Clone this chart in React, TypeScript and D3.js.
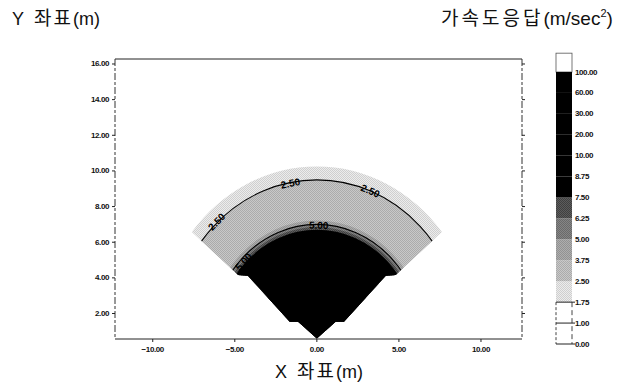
import React from 'react'
import * as d3 from 'd3'

// axis ticks
const xTicks = [-10, -5, 0, 5, 10]
const yTicks = [2, 4, 6, 8, 10, 12, 14, 16]

// colour bar levels (m/sec^2) and the two dither tones of each interval
const levels = [0, 1, 1.75, 2.5, 3.75, 5, 6.25, 7.5, 8.75, 10, 20, 30, 60, 100]
const bandLight = ['#ffffff', '#ffffff', '#ececec', '#c8c8c8', '#adadad', '#858585', '#5c5c5c', '#000', '#000', '#000', '#000', '#000', '#000']
const bandDark = ['#ffffff', '#ffffff', '#cfcfcf', '#ababab', '#929292', '#6a6a6a', '#404040', '#000', '#000', '#000', '#000', '#000', '#000']

// distance from the fan centre where the response falls under each level (1.75 .. 7.5)
const bandIndex = [2, 3, 4, 5, 6, 7]
const bandRadius = [9.73, 8.9, 6.62, 6.4, 6.25, 6.1]

// contour lines and their labels
const contourLevels = ['2.50', '5.00']
const contourRadius = [8.9, 6.4]
const labelText = ['2.50', '2.50', '2.50', '5.00', '5.00']
const labelRadius = [8.95, 8.85, 8.9, 6.35, 6.2]
const labelAngle = [133, 100.5, 68.5, 89, 136]

// fan centre and left half of the mesh outline (mirrored for the right)
const fanCenter = [0, 0.6]
const meshEdge = [[0, 0.6], [-1.14, 1.54], [-1.65, 1.54], [-4.19, 4.1], [-4.8, 4.16], [-7.62, 6.57]]

const W = 624
const H = 386
const fmt = d3.format('.2f')

export default function App() {
  const x = d3.scaleLinear().domain([-12.3, 12.5]).range([115, 522])
  const y = d3.scaleLinear().domain([0.57, 16.28]).range([339, 59])
  const sx = x(1) - x(0)
  const sy = y(0) - y(1)
  const [cx0, cy0] = fanCenter
  const cx = x(cx0)
  const cy = y(cy0)

  // mesh outline: left edge up, arc over the top, right edge down
  const left = meshEdge
  const right = meshEdge.map(([a, b]) => [-a, b]).reverse()
  const R = bandRadius[0]
  let meshPath = 'M' + left.map(([a, b]) => `${x(a)},${y(b)}`).join('L')
  meshPath += `A${R * sx},${R * sy} 0 0 1 ${x(right[0][0])},${y(right[0][1])}`
  meshPath += 'L' + right.slice(1).map(([a, b]) => `${x(a)},${y(b)}`).join('L') + 'Z'

  const cb = d3.scaleLinear().domain([0, levels.length - 1]).range([344, 72])
  const bx0 = 556
  const bx1 = 572
  const overTop = cb(levels.length - 1) - (cb(levels.length - 2) - cb(levels.length - 1)) * 0.9

  const tickFont = { fontFamily: 'Liberation Sans, Arial, sans-serif', fontSize: 8, fontWeight: 'bold', letterSpacing: -0.4, fill: '#111' }
  const latin = 'Liberation Sans, Arial, sans-serif'
  const kr = 'Noto Sans CJK KR, sans-serif'

  return (
    <svg width={W} height={H} style={{ position: 'absolute', left: 0, top: 0, background: '#fff' }}>
      <defs>
        {bandLight.map((c, i) => (
          <pattern key={i} id={`band${i}`} width={2} height={2} patternUnits="userSpaceOnUse">
            <rect width={2} height={2} fill={c} />
            <rect width={1} height={1} fill={bandDark[i]} />
            <rect x={1} y={1} width={1} height={1} fill={bandDark[i]} />
          </pattern>
        ))}
        <clipPath id="mesh">
          <path d={meshPath} />
        </clipPath>
      </defs>

      {/* titles */}
      <text x={12} y={25} fontFamily={latin} fontSize={18} fill="#111">
        Y
        <tspan dx={10} fontFamily={kr} fontSize={19} letterSpacing={2}>좌표</tspan>
        (m)
      </text>
      <text x={441} y={25} fontFamily={latin} fontSize={19} fill="#111">
        <tspan fontFamily={kr} fontSize={19} letterSpacing={3}>가속도응답</tspan>
        (m/sec
        <tspan fontSize={11} dy={-8}>2</tspan>
        <tspan dy={8}>)</tspan>
      </text>
      <text x={319} y={378} textAnchor="middle" fontFamily={latin} fontSize={18} fill="#111">
        X
        <tspan dx={10} fontFamily={kr} fontSize={19} letterSpacing={2}>좌표</tspan>
        (m)
      </text>

      {/* filled response bands */}
      <g clipPath="url(#mesh)">
        {bandRadius.map((r, k) => (
          <ellipse key={k} cx={cx} cy={cy} rx={r * sx} ry={r * sy} fill={`url(#band${bandIndex[k]})`} />
        ))}
        <rect x={x(-3)} y={y(4.3)} width={x(3) - x(-3)} height={y(0.5) - y(4.3)} fill="#000" />
        {contourRadius.map((r, k) => (
          <ellipse key={contourLevels[k]} cx={cx} cy={cy} rx={r * sx} ry={r * sy} fill="none" stroke="#000" strokeWidth={1.1} />
        ))}
      </g>

      {/* contour labels */}
      {labelText.map((t, i) => {
        const th = (labelAngle[i] * Math.PI) / 180
        const px = x(cx0 + labelRadius[i] * Math.cos(th))
        const py = y(cy0 + labelRadius[i] * Math.sin(th))
        let rot = (Math.atan2(-Math.cos(th) * sy, -Math.sin(th) * sx) * 180) / Math.PI
        if (rot > 90) rot -= 180
        if (rot < -90) rot += 180
        return (
          <text key={i} transform={`translate(${px},${py}) rotate(${rot})`} textAnchor="middle" dominantBaseline="central"
            fontFamily={latin} fontSize={10} fontWeight="bold" fill="#000">
            {t}
          </text>
        )
      })}

      {/* frame */}
      <line x1={115} x2={522} y1={59} y2={59} stroke="#222" />
      <line x1={115} x2={522} y1={339} y2={339} stroke="#222" />
      <line x1={115} x2={115} y1={59} y2={339} stroke="#333" strokeDasharray="7 2 3 2" />
      <line x1={522} x2={522} y1={59} y2={339} stroke="#333" strokeDasharray="7 2 3 2" />

      {/* y axis */}
      {yTicks.map((t) => (
        <g key={t}>
          <line x1={112} x2={115} y1={y(t)} y2={y(t)} stroke="#222" />
          <line x1={522} x2={525} y1={y(t)} y2={y(t)} stroke="#222" />
          <text x={109} y={y(t)} textAnchor="end" dominantBaseline="central" {...tickFont}>{fmt(t)}</text>
        </g>
      ))}

      {/* x axis */}
      {xTicks.map((t) => (
        <g key={t}>
          <line x1={x(t)} x2={x(t)} y1={339} y2={342} stroke="#222" />
          <text x={x(t)} y={349} textAnchor="middle" dominantBaseline="central" {...tickFont}>{fmt(t)}</text>
        </g>
      ))}

      {/* colour bar */}
      <rect x={bx0} y={overTop} width={bx1 - bx0} height={cb(levels.length - 1) - overTop} fill="#fff" stroke="#555" strokeWidth={0.8} />
      {levels.slice(0, -1).map((lv, i) => (
        <rect key={lv} x={bx0} y={cb(i + 1)} width={bx1 - bx0} height={cb(i) - cb(i + 1)} fill={`url(#band${i})`} />
      ))}
      <line x1={bx0} x2={bx0} y1={cb(2)} y2={cb(0)} stroke="#444" strokeDasharray="3 2" />
      <line x1={bx1} x2={bx1} y1={cb(2)} y2={cb(0)} stroke="#444" strokeDasharray="5 3" />
      {[0, 1, 2].map((i) => (
        <line key={i} x1={bx0} x2={bx1 + 3} y1={cb(i)} y2={cb(i)} stroke="#222" />
      ))}
      {levels.map((lv, i) => (
        <text key={lv} x={575} y={cb(i)} dominantBaseline="central" {...tickFont}>{fmt(lv)}</text>
      ))}
    </svg>
  )
}
